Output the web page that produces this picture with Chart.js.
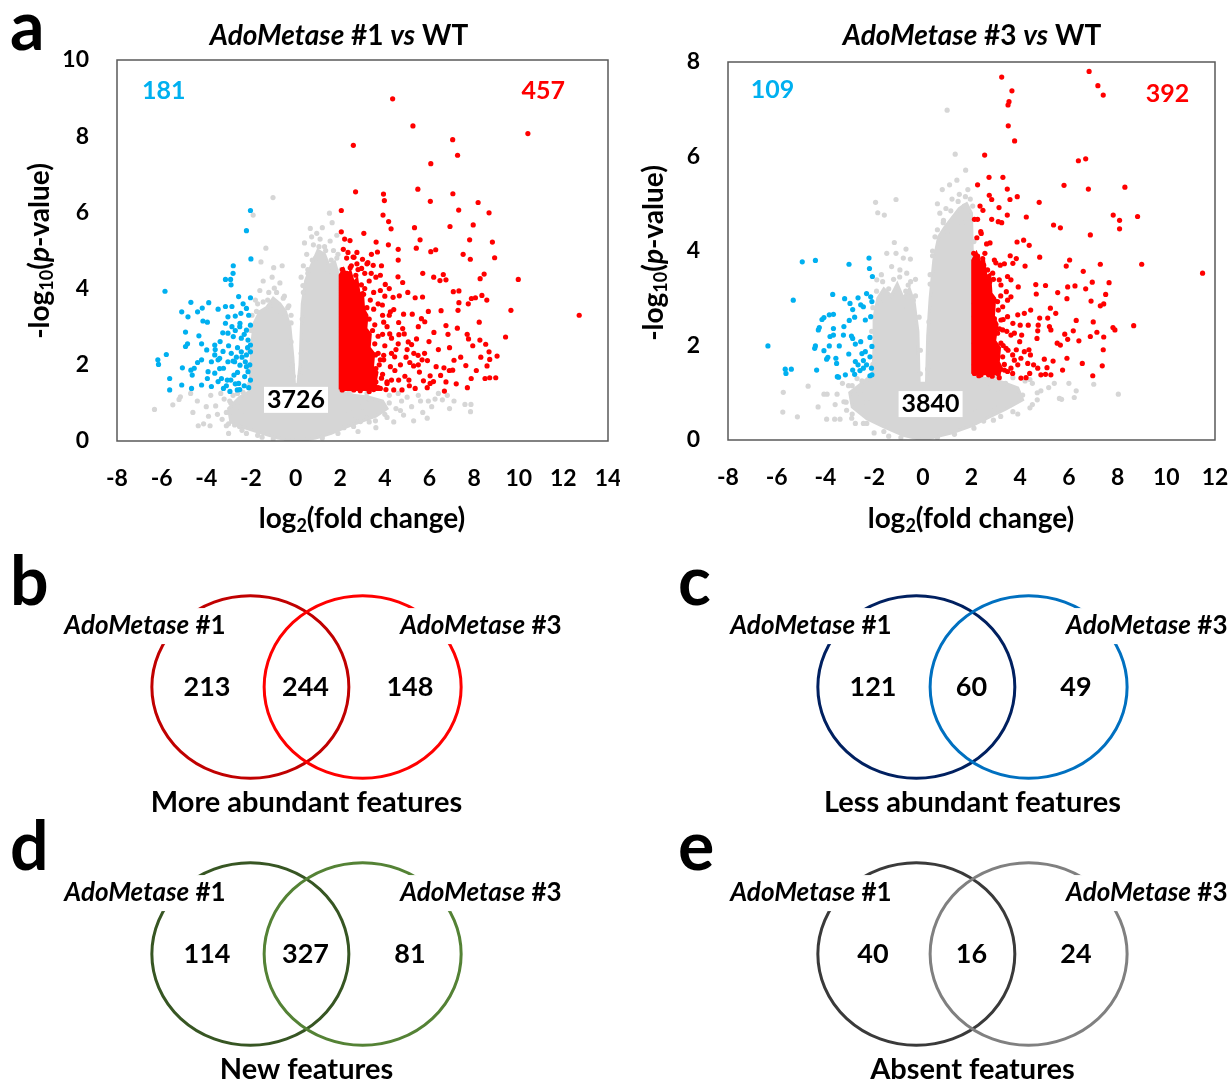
<!DOCTYPE html>
<html>
<head>
<meta charset="utf-8">
<title>AdoMetase volcano plots and Venn diagrams</title>
<script src="https://cdn.jsdelivr.net/npm/chart.js@4.4.1/dist/chart.umd.min.js"></script>
<style>
  html, body { margin: 0; padding: 0; background: #fff; }
  body { position: relative; width: 1232px; height: 1083px; overflow: hidden; }
  canvas { position: absolute; }
  .panel { position: absolute; font: bold 68px Lato, sans-serif; line-height: 68px; color: #000; }
</style>
</head>
<body>
<canvas id="volcano1" width="620" height="545" style="left:0;top:0"></canvas>
<canvas id="volcano2" width="612" height="545" style="left:620px;top:0"></canvas>
<canvas id="vennB" width="591" height="274" style="left:11px;top:550px"></canvas>
<canvas id="vennC" width="555" height="274" style="left:677px;top:550px"></canvas>
<canvas id="vennD" width="591" height="274" style="left:11px;top:817px"></canvas>
<canvas id="vennE" width="555" height="274" style="left:677px;top:817px"></canvas>
<div class="panel" style="left:10px;top:-10px">a</div>
<div class="panel" style="left:10px;top:545px">b</div>
<div class="panel" style="left:678px;top:545px">c</div>
<div class="panel" style="left:10px;top:810px">d</div>
<div class="panel" style="left:678px;top:810px">e</div>
<script>
// ---- panel a, AdoMetase #1 vs WT ----
const xTicks1 = [-8, -6, -4, -2, 0, 2, 4, 6, 8, 10, 12, 14];
const yTicks1 = [0, 2, 4, 6, 8, 10];
const counts1 = [181, 457, 3726];   // less, more, unchanged

const blue1 = [
  [-2.02,6.05],[-2.2,5.52],[-2.0,4.78],[-2.79,4.6],[-2.8,4.4],[-3.14,4.24],[-2.91,4.24],[-2.89,4.1],[-5.85,3.93],[-4.69,3.64],
  [-5.1,3.39],[-4.18,3.49],[-3.89,3.63],[-4.39,3.39],[-4.82,3.26],[-3.47,3.46],[-3.14,3.53],[-2.85,3.53],[-2.55,3.79],[-2.2,3.48],
  [-2.02,3.76],[-4.15,3.15],[-3.95,3.12],[-4.93,2.86],[-4.33,2.76],[-3.03,3.26],[-3.14,3.09],[-2.7,3.28],[-2.49,3.09],[-2.2,2.91],
  [-2.02,3.04],[-4.84,2.55],[-4.93,2.48],[-4.21,2.55],[-3.98,2.39],[-3.62,2.52],[-3.38,2.61],[-3.26,2.84],[-3.03,2.83],[-2.79,2.74],
  [-2.43,2.7],[-2.13,2.65],[-2.02,2.52],[-6.17,2.13],[-5.79,2.27],[-6.14,2.01],[-4.39,2.06],[-4.69,1.86],[-4.54,1.91],[-5.07,1.92],
  [-4.63,1.73],[-5.64,1.64],[-5.1,1.47],[-5.64,1.34],[-4.66,1.38],[-4.21,1.47],[-3.95,1.64],[-3.77,1.43],[-3.47,1.56],[-3.32,1.64],
  [-3.06,1.6],[-2.76,1.73],[-2.55,1.51],[-2.28,1.69],[-2.13,1.82],[-2.02,1.6],[-2.94,1.3],[-2.61,1.34],[-3.23,1.38],[-3.77,2.08],
  [-3.47,2.13],[-3.23,1.91],[-3.03,2.08],[-2.73,2.08],[-2.49,1.99],[-2.2,2.26],[-2.02,2.34],[-3.62,2.26],[-3.4,2.17],[-2.88,2.3],
  [-2.43,2.34],[-2.25,2.08],[-4.21,2.13],[-3.92,1.82],[-3.62,1.78],[-2.1,1.4],[-2.3,1.45],[-2.5,1.35],[-2.7,1.5],[-2.9,1.6],
  [-3.1,1.45],[-2.2,1.95],[-2.4,2.2],[-2.6,2.45],[-2.8,2.1],[-3.0,2.5],[-2.3,2.8],[-2.5,3.0],[-2.7,2.9],[-2.1,3.3],
  [-2.35,3.6],[-3.4,1.9],[-3.6,2.4],[-2.6,1.8],[-2.05,2.0],[-2.15,2.45],[-2.45,3.35],[-2.85,3.0],[-3.25,2.35],[-2.65,2.2]
];

const red1 = [
  [2.59,7.76],[2.69,6.54],[2.05,6.05],[2.05,5.49],[2.44,5.26],[2.14,5.03],[2.29,4.8],[2.62,4.82],[4.35,8.98],[5.26,8.27],
  [7.04,7.91],[7.26,7.5],[6.06,7.28],[10.41,8.07],[5.48,6.61],[3.94,6.48],[3.98,6.31],[6.04,6.29],[7.05,6.49],[8.18,6.26],
  [7.31,6.06],[8.67,5.99],[3.92,5.93],[4.17,5.76],[4.28,5.57],[5.33,5.6],[6.92,5.63],[7.96,5.67],[3.06,5.45],[3.61,5.22],
  [4.16,5.15],[4.6,5.03],[5.58,5.28],[5.41,5.06],[6.06,4.97],[6.28,5.02],[7.8,5.28],[8.82,5.22],[3.67,4.96],[4.6,4.75],
  [7.51,4.9],[7.83,4.77],[8.92,4.81],[2.58,4.83],[3.0,4.77],[3.24,4.68],[3.48,4.61],[2.96,4.53],[3.39,4.4],[3.8,4.35],
  [4.59,4.31],[4.8,4.16],[5.7,4.4],[6.19,4.3],[6.62,4.37],[6.74,4.23],[6.47,4.21],[8.27,4.26],[8.45,4.38],[9.98,4.24],
  [4.02,4.11],[4.37,3.77],[4.65,3.81],[5.03,3.9],[5.36,3.76],[5.69,3.78],[7.07,3.92],[7.32,3.94],[7.32,3.63],[7.88,3.74],
  [8.06,3.76],[8.35,3.82],[8.57,3.7],[7.74,3.6],[9.65,3.43],[12.71,3.3],[6.52,3.42],[7.28,3.43],[5.23,3.33],[5.64,3.21],
  [5.79,3.13],[4.84,3.33],[4.25,3.39],[4.62,3.11],[3.95,3.12],[3.5,3.46],[3.89,3.57],[8.23,3.12],[6.74,3.03],[7.25,2.96],
  [6.83,2.8],[7.69,2.8],[9.41,2.73],[4.87,2.81],[4.63,2.79],[4.22,2.81],[5.42,2.68],[5.98,2.61],[5.2,2.53],[5.0,2.4],
  [7.75,2.68],[7.94,2.5],[8.26,2.65],[8.52,2.54],[8.67,2.34],[9.03,2.23],[5.49,2.25],[5.78,2.3],[5.91,2.11],[5.67,2.13],
  [5.12,2.06],[5.29,1.97],[7.1,2.12],[7.63,1.98],[8.7,2.14],[8.58,1.97],[4.44,2.21],[3.95,2.13],[3.58,2.26],[3.8,2.13],
  [6.65,1.92],[6.89,1.85],[7.04,1.86],[6.5,1.72],[6.74,1.55],[7.87,1.64],[8.49,1.64],[8.7,1.66],[8.97,1.66],[6.67,1.31],
  [6.03,1.71],[6.18,1.56],[6.03,1.51],[5.73,1.58],[5.55,1.81],[5.36,1.38],[5.08,1.6],[4.77,1.34],[4.62,1.6],[4.4,1.34],
  [4.1,1.51],[3.8,1.38],[3.48,1.56],[3.18,1.43],[2.91,1.69],[2.61,1.34],[2.32,1.43],[2.09,1.34],[2.1,4.5],[2.3,4.4],
  [2.5,4.6],[2.8,4.5],[3.1,4.4],[3.3,4.2],[2.2,4.1],[3.5,3.9],[3.7,3.6],[3.9,3.3],[4.1,3.0],[4.3,2.7],
  [4.5,2.4],[4.7,2.0],[4.9,1.7],[5.1,1.45],[3.6,4.3],[3.2,4.65],[2.75,4.95],[4.0,3.8],[4.4,3.45],[4.8,2.95],
  [5.05,2.6],[5.3,2.3],[4.2,4.0],[3.85,4.6],[4.3,2.3],[4.6,2.55],[4.45,1.85],[4.95,2.2],[5.5,2.0],[5.9,1.4],
  [6.3,1.95],[6.4,2.4],[6.2,2.85],[5.5,3.0],[5.95,3.4],[6.9,2.45],[7.4,2.2],[7.2,1.5],[7.7,1.4],[8.1,1.85],
  [8.3,2.2],[4.3,1.6],[3.9,1.75],[3.6,1.9],[4.0,2.5],[3.7,2.75],[4.2,3.3],[3.8,3.95],[3.4,4.9],[2.35,4.95],[2.2,5.3],
  [2.45,4.55],[2.7,4.35],[2.95,4.1],[3.05,3.85],[3.2,3.5],[3.3,3.2],[3.45,2.9],[3.55,2.55],[3.7,2.3],[3.75,2.0],
  [3.85,1.65],[3.7,1.4],[3.3,1.3],[2.9,1.32],[3.35,2.1],[3.15,2.7],[3.55,3.05],[3.0,3.5],[2.75,4.65],[3.95,2.25],
  [4.1,1.55],[4.25,1.95],[3.6,1.55],[3.2,1.55],[3.45,1.75],[3.9,2.8],[3.35,3.7],[3.1,4.0],[4.05,1.35],[3.5,1.35]
];

// outline of the solid red mass just right of log2FC = 2
const redCore1 = [
  [2.0,1.35],[2.0,4.35],[2.15,4.5],[2.3,4.3],[2.45,4.45],[2.6,4.15],[2.75,4.25],[2.85,3.85],[3.0,3.9],[3.05,3.45],
  [3.2,3.3],[3.15,2.95],[3.35,2.8],[3.3,2.45],[3.5,2.3],[3.45,1.95],[3.65,1.8],[3.55,1.5],[3.7,1.35],[2.0,1.35]
];

const gray1 = [
  [-1.01,6.39],[-1.9,5.93],[-1.33,5.06],[-0.98,4.55],[1.52,5.98],[1.64,5.73],[0.66,5.58],[0.72,5.36],[0.33,4.08],[-0.95,4.01],
  [-1.8,3.7],[-1.6,3.95],[-1.45,4.2],[-1.2,3.9],[-0.7,4.15],[-0.5,3.8],[-0.3,3.55],[-1.75,3.4],[-0.2,3.3],[-1.05,4.3],
  [-0.6,4.6],[-1.55,4.7],[0.35,4.6],[0.5,4.9],[0.8,5.15],[1.1,5.3],[1.3,5.1],[1.7,5.0],[1.9,4.9],[0.9,4.8],
  [0.55,4.4],[1.55,5.25],[1.2,5.6],[0.95,5.45],[1.85,5.4],[0.4,5.2],[0.25,4.3],[-6.32,0.83],[-5.22,1.09],[-5.16,1.16],
  [-4.36,0.4],[-4.12,0.45],[-3.83,0.4],[-3.58,0.92],[-3.29,0.57],[-3.1,0.4],[-2.73,0.42],[-2.51,0.38],[-3.2,1.1],[-2.8,1.2],
  [-2.6,0.9],[-3.5,0.7],[-4.0,0.9],[-4.6,0.75],[-2.2,0.2],[-1.5,0.1],[-3.8,1.2],[-4.7,1.25],[-5.5,0.95],[-3.0,0.2],
  [-3.35,1.25],[-2.35,1.28],[-2.9,1.0],[-2.45,0.7],[-3.9,0.65],[-4.4,1.05],[7.59,0.96],[7.86,0.96],[7.84,0.77],[6.58,1.08],
  [5.95,1.05],[5.29,0.53],[4.84,0.68],[3.58,0.53],[2.91,0.51],[2.17,0.35],[2.4,0.8],[3.0,0.9],[3.3,1.1],[3.8,0.95],
  [4.2,1.0],[4.5,0.85],[5.0,1.15],[5.5,1.2],[6.1,0.9],[6.8,1.2],[5.7,0.75],[4.0,0.7],[3.2,0.6],[2.6,0.55],
  [7.1,1.05],[4.6,1.25],[6.4,1.25],[5.2,0.9],[4.4,0.5],[3.6,0.35],[2.8,0.25],[6.9,0.85],[5.9,0.6],[5.6,1.05],[6.25,1.1],
  [-2.05,1.5],[-2.1,2.4],[-2.0,2.9],[-1.95,3.3],[-1.7,3.6],[-1.45,3.65],[-1.25,3.7],[-0.85,3.9],[-0.55,3.75],[-0.35,3.5],
  [-0.2,3.1],[-0.2,2.6],[-0.15,2.0],[-0.1,1.7],[0.2,1.7],[0.25,2.3],[0.3,3.2],[0.35,3.9],[0.55,4.5],[0.75,4.75],
  [1.05,5.1],[1.35,5.0],[1.6,4.75],[1.85,4.8],[2.05,4.5],[2.05,3.9],[2.05,3.0],[2.05,2.2],[-2.6,1.25],[-2.95,1.05],
  [-3.1,0.75],[-3.0,0.45],[-2.4,0.28],[-1.7,0.15],[-1.0,0.05],[-0.4,0.02],[0.5,0.03],[1.2,0.08],[1.9,0.2],[2.6,0.38],
  [3.3,0.5],[4.1,0.62],[4.7,0.8],[4.75,1.05],[4.2,1.2],[3.2,1.25],[2.4,1.28],[-1.15,3.55],[-0.65,3.35],[1.45,4.45]
];

// outline of the dense grey cloud of unchanged features
const grayCloud1 = [
  [0.1,0.0],[-0.8,0.08],[-1.6,0.22],[-2.3,0.35],[-2.9,0.5],[-3.0,0.85],[-2.5,1.15],[-2.05,1.3],[-2.0,2.0],[-1.95,2.6],
  [-1.85,3.1],[-1.6,3.4],[-1.3,3.5],[-1.0,3.75],[-0.7,3.6],[-0.45,3.4],[-0.25,3.0],[-0.12,2.2],[-0.05,1.5],[0.1,1.45],
  [0.2,2.0],[0.25,2.8],[0.3,3.6],[0.45,4.2],[0.7,4.6],[1.0,5.0],[1.3,4.9],[1.5,4.6],[1.75,4.7],[1.95,4.3],
  [2.0,3.5],[2.0,1.3],[2.6,1.2],[3.3,1.15],[3.9,1.05],[4.1,0.85],[3.6,0.65],[2.8,0.48],[2.2,0.35],[1.6,0.2],[0.9,0.08],[0.1,0.0]
];

// ---- panel a, AdoMetase #3 vs WT ----
const xTicks2 = [-8, -6, -4, -2, 0, 2, 4, 6, 8, 10, 12];
const yTicks2 = [0, 2, 4, 6, 8];
const counts2 = [109, 392, 3840];

const blue2 = [
  [-4.95,3.77],[-4.41,3.8],[-3.03,3.72],[-2.21,3.85],[-2.19,3.63],[-2.07,3.46],[-5.32,2.96],[-3.7,3.08],[-3.21,2.99],[-2.99,2.89],
  [-2.66,3.01],[-2.55,2.86],[-2.44,2.82],[-2.31,3.1],[-2.14,3.03],[-2.09,2.93],[-2.88,2.76],[-2.8,2.6],[-3.02,2.53],[-2.36,2.54],
  [-2.14,2.61],[-3.84,2.65],[-3.67,2.66],[-4.14,2.55],[-4.06,2.59],[-4.25,2.38],[-3.67,2.36],[-3.24,2.4],[-3.81,2.19],[-3.67,2.22],
  [-3.26,2.22],[-2.93,2.2],[-2.88,2.15],[-2.55,2.08],[-2.17,2.17],[-2.77,2.03],[-6.36,1.99],[-4.44,1.94],[-4.41,1.99],[-4.06,1.89],
  [-3.84,1.99],[-3.43,1.99],[-3.04,1.82],[-2.5,1.83],[-2.36,1.87],[-2.09,1.98],[-2.17,1.76],[-3.95,1.71],[-3.9,1.75],[-3.57,1.73],
  [-3.54,1.62],[-2.77,1.66],[-2.66,1.59],[-2.44,1.68],[-2.31,1.59],[-2.11,1.52],[-5.65,1.5],[-5.62,1.41],[-5.4,1.5],[-4.36,1.48],
  [-2.88,1.48],[-2.58,1.47],[-2.44,1.52],[-3.18,1.38],[-3.51,1.34],[-3.46,1.33],[-2.8,1.39],[-2.17,1.36],[-2.09,1.38],[-4.29,2.33]
];

const red2 = [
  [3.24,7.68],[3.66,7.39],[3.54,7.16],[3.5,7.09],[3.51,6.65],[3.77,6.33],[2.54,6.03],[6.83,7.8],[7.19,7.5],[7.41,7.3],
  [6.39,5.91],[6.69,5.95],[2.25,5.4],[2.72,5.56],[3.29,5.56],[3.47,5.31],[2.73,5.18],[2.83,5.09],[3.58,5.09],[3.88,5.15],
  [3.13,4.92],[2.35,4.95],[2.47,4.86],[5.8,5.39],[6.8,5.31],[8.3,5.35],[4.78,5.03],[4.25,4.72],[3.47,4.76],[2.83,4.67],
  [2.12,4.67],[2.25,4.67],[3.1,4.62],[3.24,4.6],[5.37,4.55],[5.65,4.49],[7.82,4.76],[8.08,4.65],[8.08,4.47],[8.82,4.73],
  [6.88,4.34],[2.38,4.41],[2.4,4.37],[2.22,4.28],[2.76,4.17],[2.62,4.15],[3.87,4.19],[4.14,4.23],[4.37,4.12],[2.09,3.95],
  [2.25,3.89],[2.46,3.84],[2.94,3.81],[3.35,3.73],[3.18,3.7],[3.59,3.9],[3.84,3.84],[3.7,3.74],[4.8,3.87],[4.2,3.68],
  [6.03,3.81],[5.89,3.68],[6.59,3.57],[7.29,3.72],[8.99,3.72],[11.49,3.53],[2.66,3.6],[2.87,3.53],[2.53,3.46],[2.39,3.39],
  [3.14,3.39],[3.48,3.46],[3.62,3.39],[2.2,3.21],[2.47,3.24],[2.73,3.17],[3.21,3.28],[3.43,3.14],[3.92,3.24],[4.64,3.29],
  [5.04,3.27],[5.95,3.24],[6.25,3.26],[6.69,3.2],[6.96,3.34],[7.65,3.33],[4.66,3.09],[5.54,3.12],[5.92,2.99],[7.51,3.08],
  [6.91,2.94],[7.29,2.84],[7.43,2.88],[2.12,2.89],[2.25,2.82],[2.53,2.96],[3.07,2.93],[3.28,2.82],[3.48,2.96],[3.62,3.03],
  [4.43,2.75],[4.17,2.68],[3.9,2.65],[4.8,2.58],[5.13,2.58],[5.46,2.68],[5.24,2.79],[6.3,2.53],[7.0,2.5],[7.81,2.38],
  [7.89,2.33],[8.66,2.42],[2.12,2.61],[2.28,2.54],[2.66,2.61],[2.94,2.57],[3.21,2.54],[3.48,2.61],[3.7,2.47],[4.0,2.43],
  [4.33,2.43],[4.74,2.43],[5.2,2.4],[5.26,2.33],[2.25,2.33],[2.53,2.29],[2.8,2.36],[3.07,2.26],[3.28,2.33],[3.62,2.22],
  [3.76,2.26],[4.06,2.22],[4.72,2.31],[4.69,2.15],[5.83,2.24],[5.95,2.13],[6.18,2.31],[6.41,2.1],[6.88,2.19],[7.15,2.28],
  [7.43,2.18],[2.12,2.05],[2.36,2.01],[2.59,2.08],[2.94,1.98],[3.21,2.05],[3.42,1.94],[3.84,1.91],[3.98,2.08],[4.36,1.91],
  [5.52,2.05],[5.65,2.01],[7.41,1.91],[2.18,1.8],[2.39,1.73],[2.66,1.76],[3.01,1.8],[3.28,1.76],[3.69,1.8],[3.76,1.69],
  [4.03,1.73],[4.17,1.87],[4.42,1.8],[4.99,1.71],[5.35,1.67],[5.92,1.73],[6.55,1.62],[7.37,1.57],[2.12,1.59],[2.32,1.52],
  [2.59,1.48],[2.8,1.59],[3.07,1.55],[3.35,1.48],[3.62,1.52],[3.9,1.59],[4.31,1.62],[4.55,1.59],[4.72,1.52],[4.85,1.38],
  [5.04,1.39],[5.1,1.53],[5.26,1.38],[5.74,1.48],[6.98,1.36],[2.12,1.41],[2.39,1.38],[2.85,1.35],[3.14,1.32],[3.48,1.45],
  [3.69,1.41],[4.03,1.31],[4.24,1.32],[4.39,1.41],[2.5,3.7],[2.75,3.35],[2.95,2.95],[3.1,2.75],[3.15,2.35],[3.3,2.0],
  [3.35,1.6],[3.1,1.4],[2.7,1.38],[2.3,1.36],[2.9,3.4],[3.2,3.05],[3.3,2.55],[3.45,2.3],[3.5,1.9],[2.55,3.95],[3.0,3.75]
];

const redCore2 = [
  [2.05,1.4],[2.05,3.8],[2.2,3.95],[2.35,3.75],[2.5,3.8],[2.6,3.45],[2.75,3.5],[2.8,3.1],[2.95,3.0],[2.9,2.6],
  [3.05,2.45],[2.95,2.1],[3.15,1.95],[3.1,1.65],[3.25,1.5],[3.1,1.4],[2.05,1.4]
];

const gray2 = [
  [1.0,6.98],[1.33,6.05],[1.76,5.71],[-1.94,5.03],[-1.85,4.81],[-1.58,4.76],[-1.1,5.09],[-1.17,4.18],[-0.69,4.04],[-0.51,3.83],
  [-1.48,3.95],[0.84,4.6],[-1.28,3.67],[-0.94,3.6],[-0.66,3.53],[-1.89,3.39],[-1.1,3.95],[-0.6,3.28],[-0.39,2.96],[-1.7,3.5],
  [-0.3,3.4],[-0.8,3.85],[0.5,4.3],[0.7,4.8],[0.95,4.9],[1.2,5.1],[1.5,5.2],[1.85,5.3],[0.4,3.9],[0.6,5.0],
  [1.1,5.4],[1.7,4.95],[1.95,5.1],[0.3,3.5],[0.8,5.3],[1.4,5.5],[-5.75,0.59],[-5.73,1.01],[-5.15,0.49],[-4.71,1.14],
  [-4.06,0.97],[-3.93,0.97],[-3.52,0.97],[-3.95,0.44],[-3.62,0.44],[-3.4,0.44],[-3.24,0.81],[-3.13,0.63],[-2.92,0.46],[-2.44,0.35],
  [-2.77,0.35],[-3.3,1.2],[-2.9,1.15],[-2.6,1.0],[-2.3,0.8],[-3.6,0.75],[-2.2,1.3],[-2.5,1.25],[-4.3,0.7],[-2.0,0.15],
  [-1.4,0.08],[8.03,0.97],[7.02,1.18],[6.3,1.04],[6.22,0.9],[5.61,0.88],[5.7,0.86],[4.85,1.04],[5.17,1.11],[4.4,0.68],
  [3.55,0.73],[2.91,0.72],[2.4,0.9],[2.7,1.1],[3.1,1.0],[3.4,1.2],[3.8,1.05],[4.1,0.95],[4.5,1.2],[4.7,0.85],
  [3.2,0.5],[2.5,0.4],[2.2,0.6],[3.9,0.55],[5.4,1.2],[6.0,1.2],[4.2,1.25],
  [-2.05,1.6],[-2.1,2.3],[-2.05,2.8],[-1.9,3.15],[-1.65,3.35],[-1.4,3.2],[-1.2,3.4],[-0.95,3.45],[-0.7,3.15],[-0.5,3.35],
  [-0.3,3.05],[-0.15,2.6],[-0.1,1.9],[-0.1,1.4],[0.2,1.5],[0.25,2.5],[0.3,3.3],[0.4,4.0],[0.6,4.45],[0.85,4.65],
  [1.15,4.85],[1.45,5.05],[1.75,5.15],[2.05,4.95],[2.1,4.2],[-2.7,1.3],[-3.05,1.15],[-3.15,0.8],[-2.9,0.55],[-2.3,0.35],
  [-1.6,0.18],[-0.9,0.05],[0.6,0.05],[1.3,0.12],[2.1,0.25],[2.9,0.42],[3.7,0.6],[4.5,0.75],[4.7,1.0],[4.4,1.28],
  [3.7,1.32],[3.0,1.35],[-1.75,2.9],[-0.85,2.8],[1.0,4.4],[1.6,4.6]
];

const grayCloud2 = [
  [0.0,0.0],[-0.8,0.1],[-1.6,0.28],[-2.3,0.45],[-2.9,0.7],[-3.0,1.0],[-2.5,1.2],[-2.05,1.4],[-2.0,2.0],[-2.0,2.6],
  [-1.85,3.0],[-1.6,3.2],[-1.3,3.05],[-1.05,3.3],[-0.8,3.0],[-0.55,3.2],[-0.35,2.9],[-0.2,2.3],[-0.15,1.2],[0.15,1.2],
  [0.2,2.2],[0.3,3.0],[0.45,3.8],[0.65,4.3],[0.9,4.5],[1.2,4.7],[1.5,4.9],[1.8,5.0],[2.0,4.8],[2.05,3.5],
  [2.05,1.35],[2.6,1.3],[3.3,1.22],[3.9,1.1],[4.1,0.85],[3.4,0.65],[2.7,0.48],[2.0,0.3],[1.2,0.15],[0.0,0.0]
];

// ---- panels b-e, Venn diagrams ----
const vennSets = ['#1', '#3'];
const vennMore = [213, 244, 148];
const vennLess = [121, 60, 49];
const vennNew = [114, 327, 81];
const vennAbsent = [40, 16, 24];

const FONT = 'Lato, "Open Sans", sans-serif';
const BLUE = '#00B0F0', RED = '#FF0000', GRAY = '#D6D6D6';
Chart.defaults.font.family = FONT;

function richText(ctx, parts, x, y) {
  let w = 0;
  parts.forEach(p => { ctx.font = p.f; p.w = ctx.measureText(p.t).width; w += p.w; });
  let cx = x - w / 2;
  parts.forEach(p => { ctx.font = p.f; ctx.fillText(p.t, cx, y + (p.dy || 0)); cx += p.w; });
}

const volcanoText = {
  id: 'volcanoText',
  afterDraw(chart) {
    const o = chart.options.plugins.volcanoText;
    const {ctx, chartArea: a, scales: {x, y}} = chart;
    const b = 'bold 28px ' + FONT, bi = 'italic bold 28px ' + FONT, sub = 'bold 18px ' + FONT;
    ctx.save();
    ctx.strokeStyle = '#595959';
    ctx.lineWidth = 1.5;
    ctx.strokeRect(a.left, a.top, a.right - a.left, a.bottom - a.top);
    ctx.fillStyle = '#000';
    ctx.textAlign = 'left';
    ctx.textBaseline = 'middle';
    richText(ctx, [{t: 'AdoMetase', f: bi}, {t: ' ' + o.name + ' ', f: b}, {t: 'vs', f: bi}, {t: ' WT', f: b}], o.titleX, 36);
    richText(ctx, [{t: 'log', f: b}, {t: '2', f: sub, dy: 7}, {t: '(fold change)', f: b}], o.xTitleX, 519);

    o.counts.forEach(c => {
      const px = x.getPixelForValue(c.x), py = y.getPixelForValue(c.y);
      ctx.font = 'bold 25px ' + FONT;
      const w = ctx.measureText(String(c.n)).width;
      if (c.bg) {
        ctx.fillStyle = '#fff';
        ctx.fillRect(px - w / 2 - 3, py - 13, w + 6, 26);
      }
      ctx.fillStyle = c.color;
      ctx.fillText(String(c.n), px - w / 2, py);
    });

    ctx.fillStyle = '#000';
    ctx.translate(o.yTitleX, o.yTitleY);
    ctx.rotate(-Math.PI / 2);
    richText(ctx, [{t: '-log', f: b}, {t: '10', f: sub, dy: 7}, {t: '(', f: b}, {t: 'p', f: bi}, {t: '-value)', f: b}], 0, 0);
    ctx.restore();
  }
};

function axis(ticks, fit, pad) {
  return {
    type: 'linear',
    min: ticks[0],
    max: ticks[ticks.length - 1],
    afterBuildTicks: s => { s.ticks = ticks.map(v => ({value: v})); },
    afterFit: fit,
    grid: {display: false, drawTicks: false},
    border: {display: false},
    ticks: {color: '#000', padding: pad, maxRotation: 0, autoSkip: false, font: {weight: 'bold', size: 23}}
  };
}

function dots(data, color, order) {
  return {data, order, pointRadius: 2.6, pointBorderWidth: 0, pointBackgroundColor: color, backgroundColor: color, pointHoverRadius: 2.6};
}

function cloud(data, color, order) {
  return {data, order, showLine: true, fill: 'shape', borderColor: color, backgroundColor: color, borderWidth: 3, pointRadius: 0, pointHoverRadius: 0};
}

function volcano(id, d) {
  new Chart(document.getElementById(id), {
    type: 'scatter',
    data: {
      datasets: [
        dots(d.blue, BLUE, 1),
        dots(d.red, RED, 1),
        cloud(d.redCore, RED, 2),
        dots(d.gray, GRAY, 3),
        cloud(d.grayCloud, GRAY, 4)
      ]
    },
    options: {
      responsive: false,
      animation: false,
      events: [],
      layout: {padding: d.padding},
      scales: {
        x: axis(d.xTicks, s => { s.height = 60; s.paddingLeft = 0; s.paddingRight = 0; }, 24),
        y: axis(d.yTicks, s => { s.width = d.yWidth; s.paddingTop = 0; s.paddingBottom = 0; }, 28)
      },
      plugins: {
        legend: {display: false},
        tooltip: {enabled: false},
        volcanoText: {
          name: d.name, titleX: d.titleX, xTitleX: d.xTitleX, yTitleX: d.yTitleX, yTitleY: d.yTitleY,
          counts: [
            {n: d.counts[0], color: BLUE, x: d.countPos[0][0], y: d.countPos[0][1]},
            {n: d.counts[1], color: RED, x: d.countPos[1][0], y: d.countPos[1][1]},
            {n: d.counts[2], color: '#000', x: d.countPos[2][0], y: d.countPos[2][1], bg: true}
          ]
        }
      }
    },
    plugins: [volcanoText]
  });
}

volcano('volcano1', {
  name: '#1', blue: blue1, red: red1, redCore: redCore1, gray: gray1, grayCloud: grayCloud1,
  xTicks: xTicks1, yTicks: yTicks1, counts: counts1,
  countPos: [[-5.9, 9.2], [11.1, 9.18], [0.02, 1.08]],
  padding: {left: 20, top: 60, right: 12, bottom: 44}, yWidth: 97,
  titleX: 339, xTitleX: 362, yTitleX: 40, yTitleY: 251
});

volcano('volcano2', {
  name: '#3', blue: blue2, red: red2, redCore: redCore2, gray: gray2, grayCloud: grayCloud2,
  xTicks: xTicks2, yTicks: yTicks2, counts: counts2,
  countPos: [[-6.17, 7.41], [10.05, 7.32], [0.32, 0.76]],
  padding: {left: 20, top: 62, right: 17, bottom: 45}, yWidth: 88,
  titleX: 352, xTitleX: 351, yTitleX: 34, yTitleY: 253
});

const vennCenters = [-0.57, 0.57];
const vennR = 1;

const vennPlugin = {
  id: 'venn',
  afterDatasetsDraw(chart) {
    const o = chart.options.plugins.venn;
    const {ctx, scales: {x, y}} = chart;
    ctx.save();
    chart.data.datasets.forEach((ds, i) => {
      const p = chart.getDatasetMeta(i).data[0];
      const rx = x.getPixelForValue(ds.data[0].x + vennR) - p.x;
      const ry = p.y - y.getPixelForValue(vennR);
      ctx.beginPath();
      ctx.ellipse(p.x, p.y, rx, ry, 0, 0, Math.PI * 2);
      ctx.lineWidth = 3;
      ctx.strokeStyle = ds.borderColor;
      ctx.stroke();
    });
    ctx.textAlign = 'left';
    ctx.textBaseline = 'middle';
    [-1.64, 1.77].forEach((lx, i) => {
      const parts = [{t: 'AdoMetase', f: 'italic bold 26px ' + FONT}, {t: ' ' + vennSets[i], f: 'bold 26px ' + FONT}];
      let w = 0;
      parts.forEach(p => { ctx.font = p.f; w += ctx.measureText(p.t).width; });
      const px = x.getPixelForValue(lx), py = y.getPixelForValue(0.667);
      ctx.fillStyle = '#fff';
      ctx.fillRect(px - w / 2 - 4, py - 18, w + 8, 36);
      ctx.fillStyle = '#000';
      richText(ctx, parts, px, py);
    });
    [-1.01, -0.01, 1.05].forEach((nx, i) => {
      richText(ctx, [{t: String(o.nums[i]), f: 'bold 27px ' + FONT}], x.getPixelForValue(nx), y.getPixelForValue(0));
    });
    richText(ctx, [{t: o.title, f: 'bold 29px ' + FONT}], x.getPixelForValue(0), y.getPixelForValue(-1.27));
    ctx.restore();
  }
};

function venn(id, nums, colors, title, xMax) {
  new Chart(document.getElementById(id), {
    type: 'scatter',
    data: {
      datasets: colors.map((c, i) => ({data: [{x: vennCenters[i], y: 0}], borderColor: c, pointRadius: 0, pointHoverRadius: 0}))
    },
    options: {
      responsive: false,
      animation: false,
      events: [],
      layout: {padding: 0},
      scales: {
        x: {display: false, min: -3, max: xMax},
        y: {display: false, min: -1.5, max: 1.5}
      },
      plugins: {legend: {display: false}, tooltip: {enabled: false}, venn: {nums, title}}
    },
    plugins: [vennPlugin]
  });
}

venn('vennB', vennMore, ['#C00000', '#FF0000'], 'More abundant features', 3);
venn('vennC', vennLess, ['#002060', '#0070C0'], 'Less abundant features', 2.635);
venn('vennD', vennNew, ['#375623', '#548235'], 'New features', 3);
venn('vennE', vennAbsent, ['#3A3A3A', '#808080'], 'Absent features', 2.635);
</script>
</body>
</html>
